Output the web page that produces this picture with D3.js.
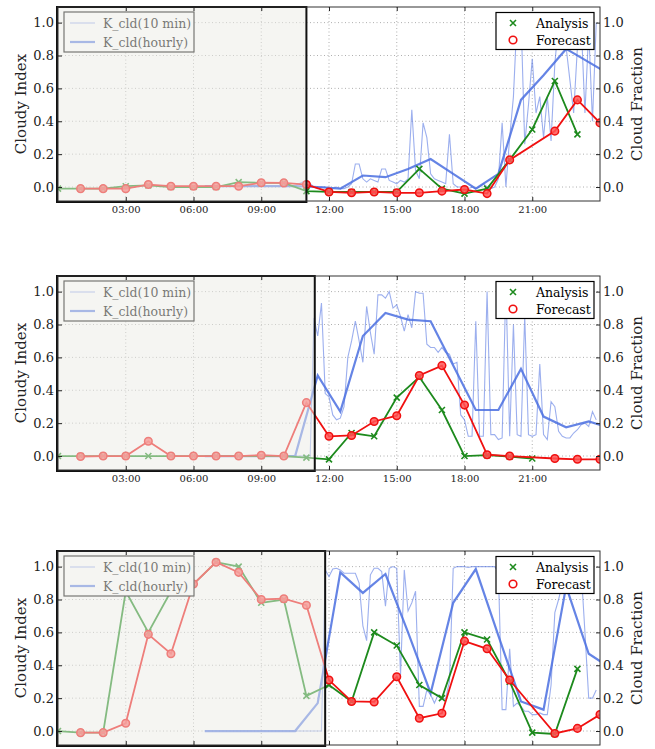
<!DOCTYPE html>
<html>
<head>
<meta charset="utf-8">
<script src="https://cdn.jsdelivr.net/npm/d3@7"></script>
<style>
	body { margin: 0; background: #fff; }
	text { font-family: "DejaVu Serif", serif; }
</style>
</head>
<body>
<svg id="chart" width="655" height="749"></svg>
<script>
// x ticks (hours of the day)
const xTicks = [3, 6, 9, 12, 15, 18, 21];
const xTickLabels = ["03:00", "06:00", "09:00", "12:00", "15:00", "18:00", "21:00"];
const yTicks = [0.0, 0.2, 0.4, 0.6, 0.8, 1.0];

// hourly K_cld is plotted at the half hour: 06:30 ... 24:30
const hourlyTimes = [6.5, 7.5, 8.5, 9.5, 10.5, 11.5, 12.5, 13.5, 14.5, 15.5, 16.5, 17.5,
	18.5, 19.5, 20.5, 21.5, 22.5, 23.5, 24.5];

// end of the greyed (past) part of each panel, in hours
const shadeEnd = [11.0, 11.37, 11.83];

// ---- panel 1 ----
// analysis at hours 0..23, forecast at hours 0..24 (null = missing)
const analysis1 = [-0.01, -0.01, -0.01, 0.005, 0.01, 0.0, 0.0, 0.0, 0.03, 0.025, 0.025, -0.025,
	-0.03, -0.03, -0.03, -0.03, 0.11, -0.01, -0.04, -0.01, 0.165, 0.35, 0.645, 0.32];
const forecast1 = [null, -0.01, -0.01, -0.01, 0.015, 0.005, 0.005, 0.005, 0.005, 0.026, 0.025, 0.015,
	-0.03, -0.035, -0.03, -0.035, -0.035, -0.025, -0.015, -0.04, 0.165, null, 0.34, 0.53, 0.39];
const hourly1 = [0.005, 0.005, 0.005, 0.005, 0.005, 0.0, -0.01, 0.07, 0.06, 0.11, 0.17, 0.08,
	-0.01, 0.08, 0.53, 0.68, 0.84, 0.76, 0.68];
// 10 minute K_cld from 06:00 to 23:50
const tenMin1 = [
	null, 0.005, 0.005, 0.005, 0.005, 0.005,
	0.005, 0.005, 0.005, 0.005, 0.005, 0.005,
	0.005, 0.005, 0.005, 0.005, 0.005, 0.005,
	0.005, 0.005, 0.005, 0.005, 0.005, 0.005,
	0.005, 0.005, 0.005, 0.01, 0.02, 0.03,
	0.04, 0.02, 0.0, -0.01, 0.0, 0.0,
	-0.01, -0.01, 0.0, -0.01, -0.01, 0.0,
	0.02, 0.14, 0.14, 0.05, 0.03, 0.05,
	0.04, 0.03, 0.11, 0.11, 0.04, 0.03,
	0.02, 0.04, 0.03, 0.05, 0.47, 0.1,
	0.05, 0.39, 0.3, 0.08, 0.05, 0.04,
	0.03, 0.02, 0.32, 0.02, 0.0, 0.0,
	0.0, -0.01, 0.0, -0.01, 0.0, 0.02,
	0.0, -0.01, 0.0, 0.05, 0.39, 0.0,
	0.3, 0.55, 1.05, 1.05, 0.26, 0.5,
	0.78, 0.45, 0.55, 0.3, 0.55, 0.28,
	0.75, 1.0, 1.0, 0.85, 0.65, 0.45,
	0.85, 1.0, 0.45, 0.95, 0.4, 1.0];

// ---- panel 2 ----
const analysis2 = [0.0, 0.0, 0.0, 0.0, 0.0, 0.0, 0.0, 0.0, 0.0, 0.0, 0.0, -0.01,
	-0.02, 0.14, 0.12, 0.355, 0.48, 0.28, 0.0, 0.005, -0.003, -0.015];
const forecast2 = [null, -0.003, 0.0, 0.0, 0.09, 0.0, 0.0, 0.0, 0.0, 0.005, 0.0, 0.325,
	0.12, 0.125, 0.21, 0.245, 0.49, 0.55, 0.31, 0.008, 0.0, null, -0.015, -0.02, -0.02];
const hourly2 = [0.0, 0.0, 0.0, 0.0, 0.0, 0.49, 0.27, 0.73, 0.87, 0.83, 0.82, 0.55,
	0.28, 0.28, 0.53, 0.24, 0.175, 0.21, 0.17];
const tenMin2 = [
	null, null, null, 0.0, 0.0, 0.0,
	0.0, 0.0, 0.0, 0.0, 0.0, 0.0,
	0.0, 0.0, 0.0, 0.0, 0.0, 0.0,
	0.0, 0.0, 0.0, 0.0, 0.0, 0.0,
	0.0, 0.0, 0.0, 0.0, 0.0, 0.0,
	0.0, 0.0, 0.84, 0.73, 0.93, 0.38,
	0.36, 0.25, 0.22, 0.23, 0.3, 0.6,
	0.7, 0.82, 0.7, 0.57, 0.91, 0.75,
	0.62, 0.98, 0.98, 0.96, 1.0, 0.9,
	0.92, 0.85, 0.76, 0.86, 0.78, 1.0,
	0.99, 0.99, 0.68, 0.66, 0.66, 0.63,
	0.66, 0.63, 0.62, 0.56, 0.57, 0.25,
	0.22, 0.12, 0.12, 0.82, 0.12, 0.12,
	1.0, 0.13, 0.13, 0.1, 0.11, 1.05,
	0.12, 0.8, 0.13, 0.12, 0.85, 0.13,
	0.12, 0.13, 0.56, 0.13, 0.1, 0.33,
	0.3, 0.15, 0.12, 0.11, 0.11, 0.14,
	0.16, 0.19, 0.2, 0.18, 0.27, 0.22];

// ---- panel 3 ----
const analysis3 = [0.0, -0.01, -0.01, 0.85, 0.6, 0.85, 0.894, 1.027, 1.0, 0.78, 0.8, 0.214,
	0.28, 0.18, 0.6, 0.52, 0.28, 0.2, 0.6, 0.557, 0.3, -0.01, -0.018, 0.378];
const forecast3 = [null, -0.01, -0.01, 0.047, 0.588, 0.47, 0.894, 1.027, 0.965, 0.8, 0.805, 0.765,
	0.31, 0.18, 0.177, 0.33, 0.078, 0.108, 0.547, 0.5, 0.31, null, -0.015, 0.016, 0.1];
const hourly3 = [0.0, 0.0, 0.0, 0.0, 0.0, 0.17, 0.965, 0.84, 0.955, 0.6, 0.23, 0.78,
	0.985, 0.58, 0.18, 0.13, 0.88, 0.47, 0.38];
const tenMin3 = [
	null, null, null, 0.0, 0.0, 0.0,
	0.0, 0.0, 0.0, 0.0, 0.0, 0.0,
	0.0, 0.0, 0.0, 0.0, 0.0, 0.0,
	0.0, 0.0, 0.0, 0.0, 0.0, 0.0,
	0.0, 0.0, 0.0, 0.0, 0.0, 0.0,
	0.0, 0.0, 0.0, 0.0, 0.0, 0.98,
	0.94, 0.985, 0.99, 0.98, 0.96, 0.96,
	0.96, 0.96, 0.9, 0.64, 0.55, 0.95,
	0.99, 0.99, 0.97, 0.76, 0.99, 1.0,
	0.99, 0.34, 0.98, 0.73, 0.78, 0.85,
	0.15, 0.15, 0.25, 0.22, 0.17, 0.22,
	0.19, 0.2, 0.3, 0.99, 1.0, 1.0,
	1.0, 0.995, 1.0, 1.0, 1.0, 1.0,
	1.0, 1.0, 1.0, 0.97, 0.13, 0.13,
	0.5, 0.15, 0.17, 0.15, 0.12, 0.12,
	0.1, 0.1, 0.11, 0.1, 0.1, 0.28,
	0.72, 0.8, 0.9, 0.97, 1.0, 1.0,
	1.0, 0.98, 0.6, 0.2, 0.2, 0.25];

const analysisSet = [analysis1, analysis2, analysis3];
const forecastSet = [forecast1, forecast2, forecast3];
const hourlySet = [hourly1, hourly2, hourly3];
const tenMinSet = [tenMin1, tenMin2, tenMin3];

// layout
const plotLeft = 58, plotRight = 600;
const panelTops = [7, 276, 551];
const panelH = 194;

const colHourly = "#4a6ee0";
const colGreen = "#1d8a1d";
const colRed = "#f01010";

const svg = d3.select("#chart");
const defs = svg.append("defs");

const x = d3.scaleLinear().domain([0, 24]).range([plotLeft, plotRight]);

function drawPanel(k) {
	const top = panelTops[k];
	const bottom = top + panelH;
	const y = d3.scaleLinear().domain([-0.085, 1.095]).range([bottom, top]);

	defs.append("clipPath").attr("id", "clip" + k)
		.append("rect")
		.attr("x", plotLeft).attr("y", top)
		.attr("width", plotRight - plotLeft).attr("height", panelH);

	const g = svg.append("g");
	const plot = g.append("g").attr("clip-path", "url(#clip" + k + ")");

	// dotted grid
	plot.selectAll(".gx").data(xTicks).enter().append("line")
		.attr("x1", d => x(d)).attr("x2", d => x(d))
		.attr("y1", top).attr("y2", bottom)
		.attr("stroke", "#9a9a9a").attr("stroke-width", 0.8)
		.attr("stroke-dasharray", "1,2.5");
	plot.selectAll(".gy").data(yTicks).enter().append("line")
		.attr("x1", plotLeft).attr("x2", plotRight)
		.attr("y1", d => y(d)).attr("y2", d => y(d))
		.attr("stroke", "#9a9a9a").attr("stroke-width", 0.8)
		.attr("stroke-dasharray", "1,2.5");

	const line = d3.line()
		.defined(d => d[1] != null)
		.x(d => x(d[0]))
		.y(d => y(d[1]));

	// K_cld 10 min
	const tenPts = tenMinSet[k].map((v, i) => [6 + i / 6, v]);
	plot.append("path")
		.attr("d", line(tenPts))
		.attr("fill", "none")
		.attr("stroke", colHourly).attr("stroke-opacity", 0.55)
		.attr("stroke-width", 1.1);

	// K_cld hourly
	const hourPts = hourlySet[k].map((v, i) => [hourlyTimes[i], v]);
	plot.append("path")
		.attr("d", line(hourPts))
		.attr("fill", "none")
		.attr("stroke", colHourly).attr("stroke-opacity", 0.85)
		.attr("stroke-width", 2.2);

	// legend of the left axis
	const lg = g.append("g").attr("transform", "translate(" + (plotLeft + 6) + "," + (top + 5) + ")");
	lg.append("rect").attr("width", 130).attr("height", 40)
		.attr("fill", "#fff").attr("stroke", "#000").attr("stroke-width", 1.2);
	lg.append("line").attr("x1", 6).attr("x2", 31).attr("y1", 11).attr("y2", 11)
		.attr("stroke", colHourly).attr("stroke-opacity", 0.55).attr("stroke-width", 1.1);
	lg.append("line").attr("x1", 6).attr("x2", 31).attr("y1", 30).attr("y2", 30)
		.attr("stroke", colHourly).attr("stroke-opacity", 0.85).attr("stroke-width", 2.2);
	lg.append("text").attr("x", 39).attr("y", 15.5).style("font-size", "12.5px").text("K_cld(10 min)");
	lg.append("text").attr("x", 39).attr("y", 34.5).style("font-size", "12.5px").text("K_cld(hourly)");

	// analysis (green, x markers)
	const anPts = analysisSet[k].map((v, i) => [i, v]).filter(d => d[1] != null);
	plot.append("path")
		.attr("d", line(analysisSet[k].map((v, i) => [i, v])))
		.attr("fill", "none").attr("stroke", colGreen).attr("stroke-width", 1.8);
	plot.selectAll(".xm").data(anPts).enter().append("path")
		.attr("transform", d => "translate(" + x(d[0]) + "," + y(d[1]) + ")")
		.attr("d", "M-3,-3L3,3M-3,3L3,-3")
		.attr("stroke", colGreen).attr("stroke-width", 1.6);

	// forecast (red, o markers)
	const fcPts = forecastSet[k].map((v, i) => [i, v]).filter(d => d[1] != null);
	plot.append("path")
		.attr("d", line(fcPts))
		.attr("fill", "none").attr("stroke", colRed).attr("stroke-width", 1.8);
	plot.selectAll(".om").data(fcPts).enter().append("circle")
		.attr("cx", d => x(d[0])).attr("cy", d => y(d[1]))
		.attr("r", 3.8)
		.attr("fill", "#f55").attr("fill-opacity", 0.85)
		.attr("stroke", colRed).attr("stroke-width", 1.5);

	// legend of the right axis
	const rg = g.append("g").attr("transform", "translate(496," + (top + 5.5) + ")");
	rg.append("rect").attr("width", 98).attr("height", 37)
		.attr("fill", "#fff").attr("stroke", "#000").attr("stroke-width", 1.2);
	rg.append("path").attr("transform", "translate(17,10.5)")
		.attr("d", "M-3,-3L3,3M-3,3L3,-3")
		.attr("stroke", colGreen).attr("stroke-width", 1.6);
	rg.append("circle").attr("cx", 17).attr("cy", 27.5).attr("r", 3.8)
		.attr("fill", "#fff").attr("stroke", colRed).attr("stroke-width", 1.6);
	rg.append("text").attr("x", 40).attr("y", 15).style("font-size", "12.5px").text("Analysis");
	rg.append("text").attr("x", 40).attr("y", 32).style("font-size", "12.5px").text("Forecast");

	// greyed past period
	g.append("rect")
		.attr("x", plotLeft - 1).attr("y", top)
		.attr("width", x(shadeEnd[k]) - plotLeft + 1).attr("height", panelH + 1)
		.attr("fill", "#ecece6").attr("fill-opacity", 0.5)
		.attr("stroke", "#111").attr("stroke-width", 2);

	// frame
	g.append("rect")
		.attr("x", plotLeft).attr("y", top)
		.attr("width", plotRight - plotLeft).attr("height", panelH)
		.attr("fill", "none").attr("stroke", "#333").attr("stroke-width", 1);

	// axes (the last panel's hour labels fall below the picture, as in the original)
	const xAxis = d3.axisBottom(x).tickValues(xTicks)
		.tickFormat((d, i) => k < 2 ? xTickLabels[i] : "")
		.tickSizeInner(-4).tickSizeOuter(0).tickPadding(5);
	const xTop = d3.axisTop(x).tickValues(xTicks)
		.tickFormat("").tickSizeInner(-4).tickSizeOuter(0);
	const yLeft = d3.axisLeft(y).tickValues(yTicks).tickFormat(d3.format(".1f"))
		.tickSizeInner(-4).tickSizeOuter(0).tickPadding(4);
	const yRight = d3.axisRight(y).tickValues(yTicks).tickFormat(d3.format(".1f"))
		.tickSizeInner(-4).tickSizeOuter(0).tickPadding(3);

	const ax = [
		g.append("g").attr("transform", "translate(0," + bottom + ")").call(xAxis),
		g.append("g").attr("transform", "translate(0," + top + ")").call(xTop),
		g.append("g").attr("transform", "translate(" + plotLeft + ",0)").call(yLeft),
		g.append("g").attr("transform", "translate(" + plotRight + ",0)").call(yRight)
	];
	ax.forEach(a => {
		a.select(".domain").remove();
		a.selectAll("line").attr("stroke", "#222");
		a.selectAll("text").attr("fill", "#222").style("font-family", "DejaVu Serif");
	});
	ax[0].selectAll("text").style("font-size", "10px");
	ax[2].selectAll("text").style("font-size", "13px");
	ax[3].selectAll("text").style("font-size", "13px");

	// axis titles
	g.append("text")
		.attr("transform", "translate(21," + (top + panelH / 2) + ") rotate(-90)")
		.attr("text-anchor", "middle").attr("dy", "0.35em")
		.style("font-size", "15px").attr("fill", "#222")
		.text("Cloudy Index");
	g.append("text")
		.attr("transform", "translate(637," + (top + panelH / 2) + ") rotate(-90)")
		.attr("text-anchor", "middle").attr("dy", "0.35em")
		.style("font-size", "15px").attr("fill", "#222")
		.text("Cloud Fraction");
}

[0, 1, 2].forEach(drawPanel);
</script>
</body>
</html>
